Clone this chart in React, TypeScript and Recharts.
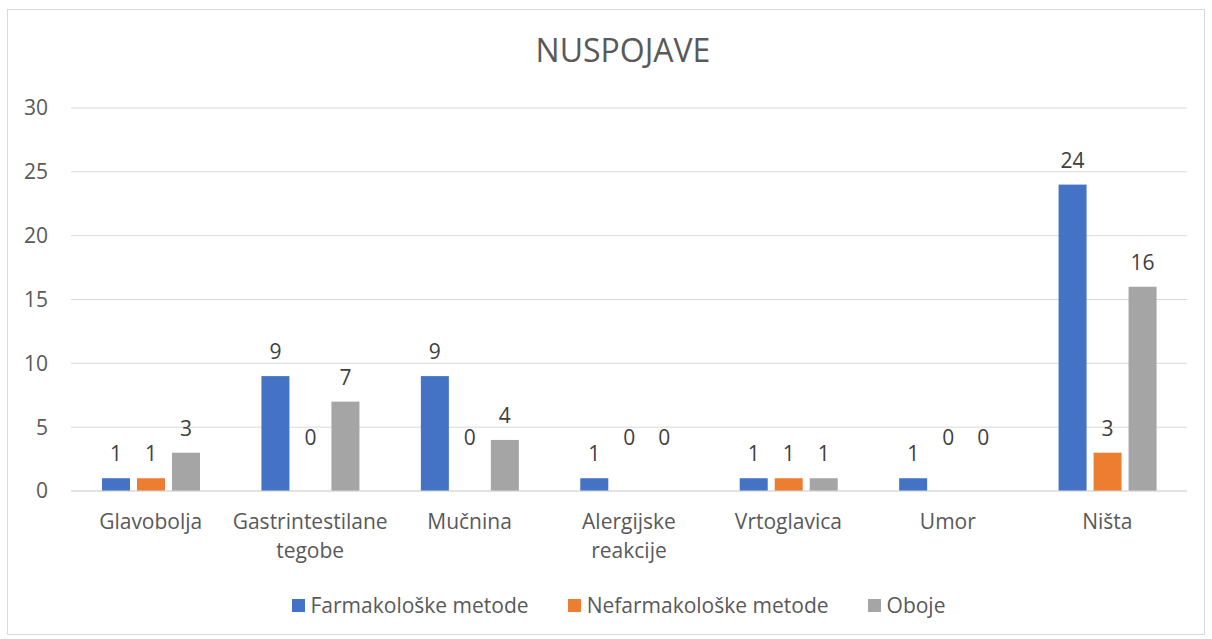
import { BarChart, Bar, XAxis, YAxis, CartesianGrid, Legend } from 'recharts';

const categories = ['Glavobolja', 'Gastrintestilane tegobe', 'Mučnina', 'Alergijske reakcije', 'Vrtoglavica', 'Umor', 'Ništa'];
const farmakoloske = [1, 9, 9, 1, 1, 1, 24];
const nefarmakoloske = [1, 0, 0, 0, 1, 0, 3];
const oboje = [3, 7, 4, 0, 1, 0, 16];
const yTicks = [0, 5, 10, 15, 20, 25, 30];

const series = [
  { key: 'farm', name: 'Farmakološke metode', color: '#4472C4', values: farmakoloske },
  { key: 'nefarm', name: 'Nefarmakološke metode', color: '#ED7D31', values: nefarmakoloske },
  { key: 'oboje', name: 'Oboje', color: '#A5A5A5', values: oboje },
];

const data = categories.map((name, i) => ({
  name,
  farm: farmakoloske[i],
  nefarm: nefarmakoloske[i],
  oboje: oboje[i],
}));

const font = '"Open Sans", sans-serif';
const tickColor = '#595959';
const labelColor = '#404040';
const grid = '#D9D9D9';

function CategoryTick({ x, y, payload }: any) {
  const lines = String(payload.value).split(' ');
  return (
    <text x={x} y={y} textAnchor="middle" fill={tickColor} fontSize={21} fontFamily={font}>
      {lines.map((l, i) => (
        <tspan key={i} x={x} dy={i === 0 ? 30 : 29}>{l}</tspan>
      ))}
    </text>
  );
}

// bar plus its value label; zero bars get their label lifted, as in the original
function makeShape(key: string) {
  return (props: any) => {
    const { x, y, width, height, fill, payload } = props;
    const value = payload[key];
    const lift = value === 0 ? 46 : 17;
    return (
      <g>
        {height > 0 && <rect x={x} y={y} width={width} height={height} fill={fill} />}
        <text x={x + width / 2} y={y - lift} textAnchor="middle" fill={labelColor} fontSize={21} fontFamily={font}>
          {value}
        </text>
      </g>
    );
  };
}

function LegendContent() {
  return (
    <div style={{ display: 'flex', justifyContent: 'center', gap: 39, fontFamily: font, fontSize: 21, color: tickColor, height: 30, alignItems: 'center', paddingLeft: 42 }}>
      {series.map((s) => (
        <div key={s.key} style={{ display: 'flex', alignItems: 'center', gap: 6 }}>
          <span style={{ width: 13, height: 13, background: s.color, display: 'inline-block' }} />
          <span>{s.name}</span>
        </div>
      ))}
    </div>
  );
}

export default function App() {
  return (
    <div style={{ position: 'absolute', left: 7, top: 9, width: 1196, height: 624, border: '1px solid #D9D9D9', background: '#fff' }}>
      <div style={{ position: 'absolute', left: 34, right: 0, top: 18, textAlign: 'center', fontFamily: font, fontSize: 32, color: tickColor, lineHeight: 'normal' }}>
        NUSPOJAVE
      </div>
      <BarChart width={1196} height={624} data={data} margin={{ top: 98, right: 17, bottom: 14, left: 0 }} barSize={28} barGap={7}>
        <CartesianGrid stroke={grid} vertical={false} />
        <XAxis dataKey="name" height={99} tick={<CategoryTick />} tickLine={false} axisLine={{ stroke: grid }} interval={0} />
        <YAxis width={63} domain={[0, 30]} ticks={yTicks} tickLine={false} axisLine={false} tickMargin={17}
          tick={{ fill: tickColor, fontSize: 21, fontFamily: font }} />
        <Legend verticalAlign="bottom" content={<LegendContent />} wrapperStyle={{ height: 30 }} />
        {series.map((s) => (
          <Bar key={s.key} dataKey={s.key} name={s.name} fill={s.color} isAnimationActive={false} shape={makeShape(s.key)} />
        ))}
      </BarChart>
    </div>
  );
}
